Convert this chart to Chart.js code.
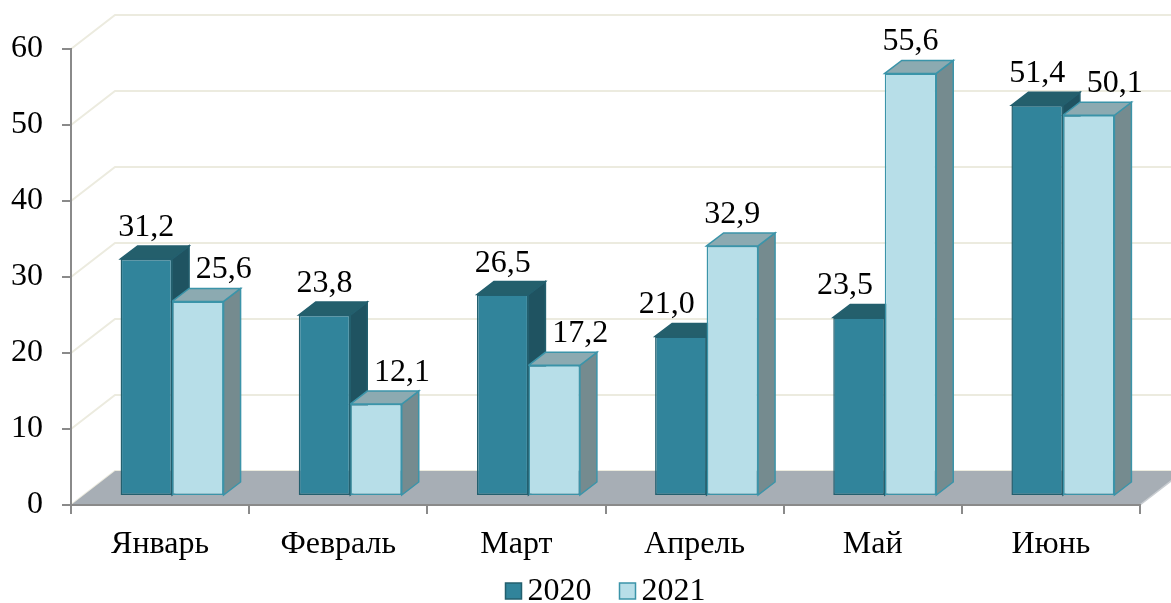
<!DOCTYPE html>
<html>
<head>
<meta charset="utf-8">
<script src="https://cdn.jsdelivr.net/npm/chart.js@4.4.1/dist/chart.umd.min.js"></script>
<style>
  html, body { margin: 0; padding: 0; background: #fff; }
</style>
</head>
<body>
<canvas id="chart" width="1171" height="603"></canvas>
<script>
// Data
const categories = ["Январь", "Февраль", "Март", "Апрель", "Май", "Июнь"];
const seriesNames = ["2020", "2021"];
const values2020 = [31.2, 23.8, 26.5, 21.0, 23.5, 51.4];
const values2021 = [25.6, 12.1, 17.2, 32.9, 55.6, 50.1];
const yMin = 0;
const yMax = 60;
const yStep = 10;

// Look
const FONT = '"Liberation Serif", "Times New Roman", serif';
const FONT_SIZE = 32;
const AXIS = "#8a8a8a";
const WALL = { dx: 44, dy: -34 };   // depth of floor / back wall
const SHIFT = { dx: 12, dy: -9 };   // bars stand a little inside the floor
const DEPTH = { dx: 17, dy: -13 };  // bar thickness

const styles = [
  { front: "#31849b", border: "#235f6e", top: "#245f6c", side: "#1f5361" },
  { front: "#b7dee8", border: "#3b94a9", top: "#8caab1", side: "#758b8f" },
];

const $ = (id) => document.getElementById(id);
const fmt = (v) => v.toFixed(1).replace(".", ",");

function poly(ctx, pts, fill, stroke) {
  ctx.beginPath();
  ctx.moveTo(pts[0][0], pts[0][1]);
  for (let i = 1; i < pts.length; i++) ctx.lineTo(pts[i][0], pts[i][1]);
  ctx.closePath();
  ctx.fillStyle = fill;
  ctx.fill();
  ctx.lineWidth = 1.5;
  ctx.strokeStyle = stroke;
  ctx.stroke();
}

// ======================
// 3D PLUGIN
// ======================
const threeD = {
  id: "threeD",
  beforeDraw(chart) {
    const { ctx, chartArea: a } = chart;
    const y = chart.scales.y;
    ctx.save();
    // back wall grid lines
    ctx.strokeStyle = "#ecebdf";
    ctx.lineWidth = 2;
    y.ticks.forEach((t) => {
      const py = y.getPixelForValue(t.value);
      ctx.beginPath();
      ctx.moveTo(a.left, py);
      ctx.lineTo(a.left + WALL.dx, py + WALL.dy);
      ctx.lineTo(chart.width, py + WALL.dy);
      ctx.stroke();
    });
    // floor
    const fy = y.getPixelForValue(yMin);
    ctx.beginPath();
    ctx.moveTo(a.left, fy);
    ctx.lineTo(a.right, fy);
    ctx.lineTo(a.right + WALL.dx, fy + WALL.dy);
    ctx.lineTo(a.left + WALL.dx, fy + WALL.dy);
    ctx.closePath();
    ctx.fillStyle = "#a7aeb5";
    ctx.fill();
    ctx.beginPath();
    ctx.moveTo(a.right, fy);
    ctx.lineTo(a.right + WALL.dx, fy + WALL.dy);
    ctx.strokeStyle = "#c9cdd1";
    ctx.lineWidth = 1.5;
    ctx.stroke();
    ctx.restore();
  },
  beforeDatasetsDraw(chart) {
    const ctx = chart.ctx;
    ctx.save();
    ctx.translate(SHIFT.dx, SHIFT.dy);
    // side and top faces first (2020 then 2021), Chart.js paints the fronts over them
    chart.data.datasets.forEach((ds, i) => {
      const st = styles[i];
      chart.getDatasetMeta(i).data.forEach((bar) => {
        const { x, y, base, width } = bar.getProps(["x", "y", "base", "width"], true);
        const l = x - width / 2;
        const r = x + width / 2;
        poly(ctx, [[r, y], [r + DEPTH.dx, y + DEPTH.dy], [r + DEPTH.dx, base + DEPTH.dy], [r, base]], st.side, st.border);
        poly(ctx, [[l, y], [l + DEPTH.dx, y + DEPTH.dy], [r + DEPTH.dx, y + DEPTH.dy], [r, y]], st.top, st.border);
      });
    });
  },
  afterDatasetsDraw(chart) {
    const ctx = chart.ctx;
    ctx.restore();

    // value labels
    ctx.save();
    ctx.font = `${FONT_SIZE}px ${FONT}`;
    ctx.fillStyle = "#000";
    ctx.textAlign = "center";
    ctx.textBaseline = "alphabetic";
    chart.data.datasets.forEach((ds, i) => {
      const other = chart.data.datasets[1 - i];
      chart.getDatasetMeta(i).data.forEach((bar, j) => {
        const { x, y } = bar.getProps(["x", "y"], true);
        let off = 0;
        // shorter bar's label moves away from its taller neighbour
        if (ds.data[j] < other.data[j]) off = i === 0 ? -14 : 26;
        ctx.fillText(fmt(ds.data[j]), x + SHIFT.dx + off, y + SHIFT.dy + DEPTH.dy - 10);
      });
    });
    ctx.restore();
  },
  afterDraw(chart) {
    // legend
    const { ctx, chartArea: a } = chart;
    ctx.save();
    ctx.font = `${FONT_SIZE}px ${FONT}`;
    ctx.textBaseline = "alphabetic";
    ctx.textAlign = "left";
    const box = 16, gap = 6, itemGap = 28;
    const items = chart.data.datasets.map((d) => ({ text: d.label, w: ctx.measureText(d.label).width, fill: d.backgroundColor, stroke: d.borderColor }));
    const total = items.reduce((s, it) => s + box + gap + it.w, 0) + itemGap * (items.length - 1);
    let x = (a.left + a.right) / 2 - total / 2;
    const baseY = 600;
    items.forEach((it) => {
      ctx.fillStyle = it.fill;
      ctx.fillRect(x, baseY - 17, box, box);
      ctx.lineWidth = 1.5;
      ctx.strokeStyle = it.stroke;
      ctx.strokeRect(x, baseY - 17, box, box);
      ctx.fillStyle = "#000";
      ctx.fillText(it.text, x + box + gap, baseY);
      x += box + gap + it.w + itemGap;
    });
    ctx.restore();
  },
};

// ======================
// CHART
// ======================
const chart = new Chart($("chart").getContext("2d"), {
  type: "bar",
  data: {
    labels: categories,
    datasets: [
      {
        label: seriesNames[0],
        data: values2020,
        backgroundColor: styles[0].front,
        borderColor: styles[0].border,
        borderWidth: 1.5,
        borderSkipped: false,
        barPercentage: 1,
        categoryPercentage: 0.578,
        clip: false,
      },
      {
        label: seriesNames[1],
        data: values2021,
        backgroundColor: styles[1].front,
        borderColor: styles[1].border,
        borderWidth: 1.5,
        borderSkipped: false,
        barPercentage: 1,
        categoryPercentage: 0.578,
        clip: false,
      },
    ],
  },
  options: {
    responsive: false,
    devicePixelRatio: 1,
    animation: false,
    layout: { padding: { left: 0, right: 31, top: 49, bottom: 0 } },
    scales: {
      x: {
        grid: { drawOnChartArea: false, tickLength: 9, color: AXIS, lineWidth: 2, offset: true },
        border: { display: true, color: AXIS, width: 2 },
        ticks: { color: "#000", font: { family: FONT, size: FONT_SIZE }, padding: 11, maxRotation: 0 },
        afterFit: (s) => { s.height = 98; },
      },
      y: {
        min: yMin,
        max: yMax,
        grid: { drawOnChartArea: false, tickLength: 9, color: AXIS, lineWidth: 2 },
        border: { display: true, color: AXIS, width: 2 },
        ticks: { stepSize: yStep, color: "#000", font: { family: FONT, size: FONT_SIZE }, padding: 19 },
        afterFit: (s) => { s.width = 71; },
      },
    },
    plugins: {
      legend: { display: false },
      tooltip: { enabled: false },
    },
  },
  plugins: [threeD],
});
</script>
</body>
</html>
